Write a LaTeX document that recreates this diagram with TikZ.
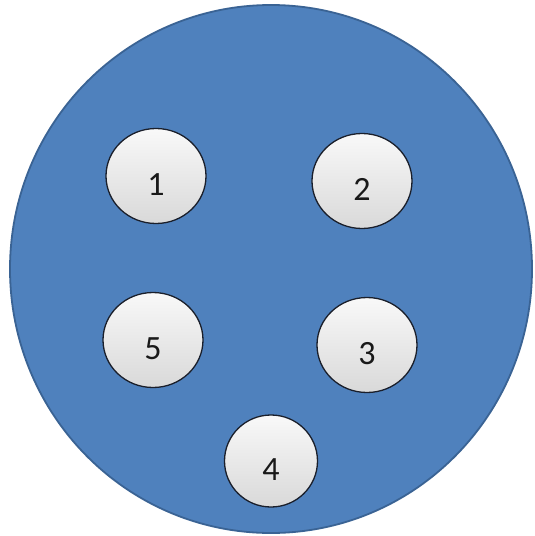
\documentclass[tikz,border=0pt]{standalone}
\usepackage{fontspec}
\setmainfont{Carlito}
\usetikzlibrary{shapes.geometric}
\definecolor{bigblue}{HTML}{4F81BD}
\definecolor{bigedge}{HTML}{3A6394}
\definecolor{smalledge}{HTML}{1A1F2B}
\begin{document}
\begin{tikzpicture}[x=1pt,y=-1pt,
  dot/.style={ellipse, minimum width=100pt, minimum height=95pt, inner sep=0pt,
    draw=smalledge, line width=1.3pt, top color=white!95!gray, bottom color=gray!30,
    font=\fontsize{34}{36}\selectfont, text=black!90, text height=39pt, text depth=0pt}]
\useasboundingbox (0,0) rectangle (535,536);
\fill[white] (0,0) rectangle (535,536);
\node[ellipse, minimum width=522pt, minimum height=528pt, inner sep=0pt,
  fill=bigblue, draw=bigedge, line width=1.8pt] (big) at (271,269) {};
\node[dot] (n1) at (156,176) {1};
\node[dot] (n2) at (362,181) {2};
\node[dot] (n5) at (153,340) {5};
\node[dot] (n3) at (367,345) {3};
\node[dot, minimum width=93pt, minimum height=92pt] (n4) at (271,461) {4};
\end{tikzpicture}
\end{document}
